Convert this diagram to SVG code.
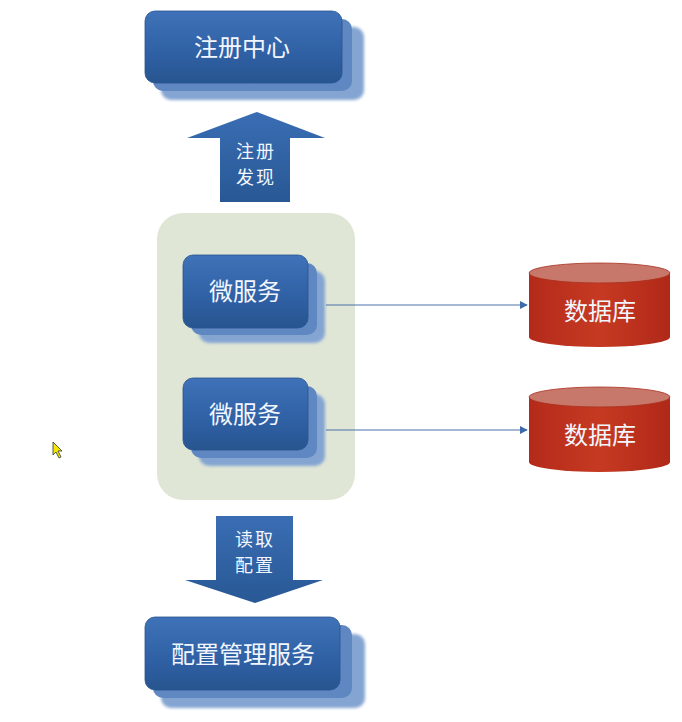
<svg xmlns="http://www.w3.org/2000/svg" width="682" height="722" viewBox="0 0 682 722">
  <defs>
    <linearGradient id="gFront" x1="0" y1="0" x2="0" y2="1">
      <stop offset="0" stop-color="#3f72b8"/>
      <stop offset="0.6" stop-color="#2f60a4"/>
      <stop offset="1" stop-color="#27558f"/>
    </linearGradient>
    <linearGradient id="gArrow" x1="0" y1="0" x2="0" y2="1">
      <stop offset="0" stop-color="#3a6db4"/>
      <stop offset="1" stop-color="#285894"/>
    </linearGradient>
    <linearGradient id="gDb" x1="0" y1="0" x2="1" y2="0">
      <stop offset="0" stop-color="#b42a1a"/>
      <stop offset="0.5" stop-color="#c63a22"/>
      <stop offset="1" stop-color="#b02818"/>
    </linearGradient>
    <filter id="soft" x="-10%" y="-10%" width="130%" height="140%">
      <feGaussianBlur stdDeviation="1.5"/>
    </filter>
    <marker id="arrow" viewBox="0 0 10 10" refX="9" refY="5" markerWidth="8" markerHeight="8" orient="auto" markerUnits="userSpaceOnUse">
      <path d="M0,0 L10,5 L0,10 z" fill="#3d6aa8"/>
    </marker>
    <style>
      .layer3 { fill: #84a5d2; filter: url(#soft); }
      .layer2 { fill: #5f88c2; }
      .front { fill: url(#gFront); stroke: #2a5490; stroke-width: 0.8; }
      .label { font-family: "Noto Sans CJK SC", "Noto Sans", sans-serif; fill: #f2f6ff; text-anchor: middle; }
      .big { font-size: 24px; }
      .small { font-size: 18px; letter-spacing: 2px; }
      .conn { stroke: #4a70a8; stroke-width: 1.2; fill: none; }
      .dbBody { fill: url(#gDb); }
      .dbTop { fill: #c7786a; stroke: #a8301e; stroke-width: 0.8; }
    </style>
  </defs>

  <rect width="682" height="722" fill="#ffffff"/>

  <!-- service container -->
  <rect id="container" x="157" y="213" width="198" height="287" rx="26" fill="#dfe6d6"/>

  <!-- registry -->
  <g id="registry">
    <rect class="layer3" x="161" y="27" width="203" height="73" rx="10"/>
    <rect class="layer2" x="153" y="19" width="199" height="72" rx="10"/>
    <rect class="front" x="145" y="11" width="197" height="72" rx="10"/>
    <text class="label big" x="242" y="56">注册中心</text>
  </g>

  <!-- register / discover arrow -->
  <g id="arrow-register">
    <polygon points="257,112 325,138 290,138 290,202 220,202 220,138 187,138" fill="url(#gArrow)"/>
    <text class="label small" x="256" y="158">注册</text>
    <text class="label small" x="256" y="184">发现</text>
  </g>

  <!-- microservice 1 -->
  <g id="service-1">
    <rect class="layer3" x="199" y="271" width="126" height="72" rx="10"/>
    <rect class="layer2" x="191" y="263" width="126" height="72" rx="10"/>
    <rect class="front" x="183" y="255" width="125" height="73" rx="10"/>
    <text class="label big" x="245" y="300">微服务</text>
  </g>

  <!-- microservice 2 -->
  <g id="service-2">
    <rect class="layer3" x="199" y="394" width="126" height="72" rx="10"/>
    <rect class="layer2" x="191" y="386" width="126" height="72" rx="10"/>
    <rect class="front" x="183" y="378" width="125" height="72" rx="10"/>
    <text class="label big" x="245" y="423">微服务</text>
  </g>

  <!-- database 1 -->
  <g id="db-1">
    <path class="dbBody" d="M529,273 L529,337 A70.5,10 0 0 0 670,337 L670,273 Z"/>
    <ellipse class="dbTop" cx="599.5" cy="273" rx="70.5" ry="10"/>
    <text class="label big" x="600" y="320">数据库</text>
  </g>

  <!-- database 2 -->
  <g id="db-2">
    <path class="dbBody" d="M529,397 L529,462 A70.5,10 0 0 0 670,462 L670,397 Z"/>
    <ellipse class="dbTop" cx="599.5" cy="397" rx="70.5" ry="10"/>
    <text class="label big" x="600" y="444">数据库</text>
  </g>

  <!-- read config arrow -->
  <g id="arrow-config">
    <polygon points="216,516 293,516 293,580 323,580 255,603 185,580 216,580" fill="url(#gArrow)"/>
    <text class="label small" x="255" y="546">读取</text>
    <text class="label small" x="255" y="572">配置</text>
  </g>

  <!-- config management -->
  <g id="config-service">
    <rect class="layer3" x="161" y="634" width="204" height="74" rx="10"/>
    <rect class="layer2" x="153" y="625" width="199" height="73" rx="10"/>
    <rect class="front" x="145" y="617" width="195" height="73" rx="10"/>
    <text class="label big" x="243" y="663">配置管理服务</text>
  </g>

  <!-- connectors -->
  <g id="connectors">
    <line class="conn" x1="326" y1="305" x2="527" y2="305" marker-end="url(#arrow)"/>
    <line class="conn" x1="326" y1="430" x2="527" y2="430" marker-end="url(#arrow)"/>
  </g>

  <!-- pointer -->
  <polygon points="53,442 53,455 56,452 59,458 61,457 58,451 62,451" fill="#f2e500" stroke="#333333" stroke-width="0.8"/>
</svg>
